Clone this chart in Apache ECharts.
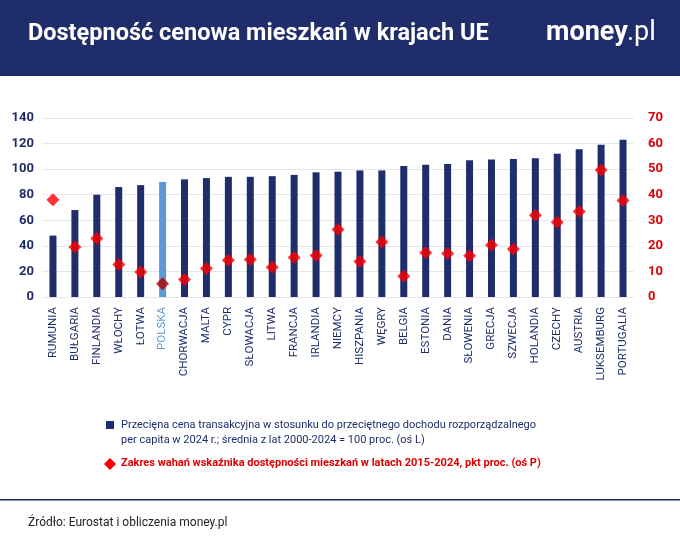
<!DOCTYPE html>
<html><head><meta charset="utf-8">
<script src="https://cdn.jsdelivr.net/npm/echarts@6/dist/echarts.min.js"></script>
<style>html,body{margin:0;padding:0;background:#fff}#c{width:680px;height:548px}</style>
</head><body><div id="c"></div>
<script>
const categories=['RUMUNIA','BUŁGARIA','FINLANDIA','WŁOCHY','ŁOTWA','POLSKA','CHORWACJA','MALTA','CYPR','SŁOWACJA','LITWA','FRANCJA','IRLANDIA','NIEMCY','HISZPANIA','WĘGRY','BELGIA','ESTONIA','DANIA','SŁOWENIA','GRECJA','SZWECJA','HOLANDIA','CZECHY','AUSTRIA','LUKSEMBURG','PORTUGALIA'];
const priceRatio=[48,68,80,86,87.5,90,92,93,94,94,94.5,95.5,97.5,98,99,99,102.5,103.5,104,107,107.5,108,108.5,112,115.5,119,123];
const rangeSpread=[38,19.6,22.9,12.7,9.8,5.2,6.8,11.1,14.4,14.7,11.6,15.4,16.2,26.4,13.9,21.5,8.1,17.3,17,16.1,20.3,18.8,32,29.2,33.4,49.7,37.7];
const leftTicks=[0,140,20];
const rightTicks=[0,70,10];
const highlight='POLSKA';
const navy='#1f2d6b';
const chart=echarts.init(document.getElementById('c'));
chart.setOption({
  backgroundColor:'#fff',
  textStyle:{fontFamily:'Roboto'},
  graphic:[
    {type:'rect',shape:{x:0,y:0,width:680,height:76},style:{fill:navy}},
    {type:'text',x:28,y:22,style:{text:'Dostępność cenowa mieszkań w krajach UE',fill:'#fff',font:'bold 23.5px Roboto'}},
    {type:'text',x:546,y:20,style:{text:'money',fill:'#fff',font:'bold 27px Roboto'}},
    {type:'text',x:627,y:20,style:{text:'.pl',fill:'#fff',font:'27px Roboto'}},
    {type:'rect',shape:{x:106,y:421,width:8,height:8},style:{fill:navy}},
    {type:'text',x:121,y:418,style:{text:'Przecięna cena transakcyjna w stosunku do przeciętnego dochodu rozporządzalnego\nper capita w 2024 r.; średnia z lat 2000-2024 = 100 proc. (oś L)',fill:navy,font:'11px Roboto',lineHeight:15}},
    {type:'polygon',shape:{points:[[110,458],[116,464],[110,470],[104,464]]},style:{fill:'#ff0000'}},
    {type:'text',x:121,y:458,style:{text:'Zakres wahań wskaźnika dostępności mieszkań w latach 2015-2024, pkt proc. (oś P)',fill:'#e00000',font:'bold 11px Roboto'}},
    {type:'rect',shape:{x:0,y:499,width:680,height:1.5},style:{fill:navy}},
    {type:'text',x:28,y:517,style:{text:'Źródło: Eurostat i obliczenia money.pl',fill:'#222',font:'12px Roboto'}}
  ],
  grid:{left:42,right:46,top:118,bottom:251},
  xAxis:{type:'category',data:categories,axisTick:{show:false},axisLine:{show:false},
    axisLabel:{rotate:90,interval:0,fontSize:11.5,margin:10,
      color:(v)=>v===highlight?'#5b9bd5':navy}},
  yAxis:[
    {type:'value',min:leftTicks[0],max:leftTicks[1],interval:leftTicks[2],
      axisLabel:{color:navy,fontWeight:'bold',fontSize:13,margin:8},
      splitLine:{lineStyle:{color:'#e4e6ec'}}},
    {type:'value',min:rightTicks[0],max:rightTicks[1],interval:rightTicks[2],
      axisLabel:{color:'#e00000',fontWeight:'bold',fontSize:13,margin:14},splitLine:{show:false}}
  ],
  series:[
    {type:'bar',yAxisIndex:0,barWidth:7,
      data:priceRatio.map((v,i)=>({value:v,itemStyle:{color:categories[i]===highlight?'#5b9bd5':navy}}))},
    {type:'scatter',yAxisIndex:1,symbol:'diamond',symbolSize:13,
      data:rangeSpread.map((v,i)=>({value:v,itemStyle:{color:categories[i]===highlight?'#b00000':'#ff0000'}}))}
  ]
});
</script></body></html>
